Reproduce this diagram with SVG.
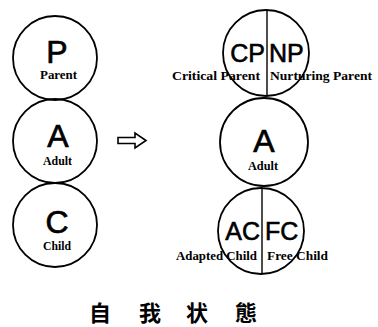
<svg xmlns="http://www.w3.org/2000/svg" width="378" height="327" viewBox="0 0 378 327">
<style>
.c{fill:none;stroke:#000;stroke-width:1.8}
.l{stroke:#000;stroke-width:1.4}
.big{font-family:"Liberation Sans",Arial,sans-serif;font-size:32px;fill:#000;text-anchor:middle;stroke:#000;stroke-width:0.7}
.mid{font-family:"Liberation Sans",Arial,sans-serif;font-size:25px;fill:#000;stroke:#000;stroke-width:0.6}
.sm{font-family:"Liberation Serif","Times New Roman",serif;font-size:12px;font-weight:bold;fill:#000}
.cjk{font-family:"Noto Sans CJK SC","Noto Sans CJK JP",sans-serif;font-size:22px;font-weight:bold;fill:#000;text-anchor:middle}
</style>
<rect width="378" height="327" fill="#fff"/>
<g id="left-P">
<circle class="c" cx="55" cy="58" r="42"/>
<text class="big" x="57" y="63">P</text>
<text class="sm" x="40" y="79" textLength="37" lengthAdjust="spacingAndGlyphs">Parent</text>
</g>
<g id="left-A">
<circle class="c" cx="55" cy="141" r="42"/>
<text class="big" x="58" y="147">A</text>
<text class="sm" x="43" y="165" textLength="29" lengthAdjust="spacingAndGlyphs">Adult</text>
</g>
<g id="left-C">
<circle class="c" cx="55" cy="225" r="42"/>
<text class="big" x="57" y="233">C</text>
<text class="sm" x="43" y="250" textLength="28" lengthAdjust="spacingAndGlyphs">Child</text>
</g>
<g id="connectors">
<path d="M118,137.5 H135 V133 L146,140.5 L135,148 V143.5 H118 Z" fill="none" stroke="#000" stroke-width="1.6" stroke-linejoin="miter"/>
</g>
<g id="right-P">
<circle class="c" cx="266" cy="53" r="43"/>
<line class="l" x1="267" y1="10" x2="267" y2="96"/>
<text class="mid" x="265" y="62" text-anchor="end">CP</text>
<text class="mid" x="269" y="62">NP</text>
<text class="sm" x="172" y="80" textLength="88" lengthAdjust="spacingAndGlyphs">Critical Parent</text>
<text class="sm" x="270" y="80" textLength="102" lengthAdjust="spacingAndGlyphs">Nurturing Parent</text>
</g>
<g id="right-A">
<circle class="c" cx="264" cy="142" r="44"/>
<text class="big" x="264" y="152">A</text>
<text class="sm" x="248" y="170" textLength="30" lengthAdjust="spacingAndGlyphs">Adult</text>
</g>
<g id="right-C">
<circle class="c" cx="261" cy="231" r="43"/>
<line class="l" x1="262" y1="188" x2="262" y2="274"/>
<text class="mid" x="260" y="240" text-anchor="end">AC</text>
<text class="mid" x="265" y="240">FC</text>
<text class="sm" x="176" y="260" textLength="81" lengthAdjust="spacingAndGlyphs">Adapted Child</text>
<text class="sm" x="267" y="260" textLength="61" lengthAdjust="spacingAndGlyphs">Free Child</text>
</g>
<g id="title">
<text class="cjk" x="100" y="321">自</text>
<text class="cjk" x="150" y="321">我</text>
<text class="cjk" x="197" y="321">状</text>
<text class="cjk" x="246" y="321">態</text>
</g>
</svg>
